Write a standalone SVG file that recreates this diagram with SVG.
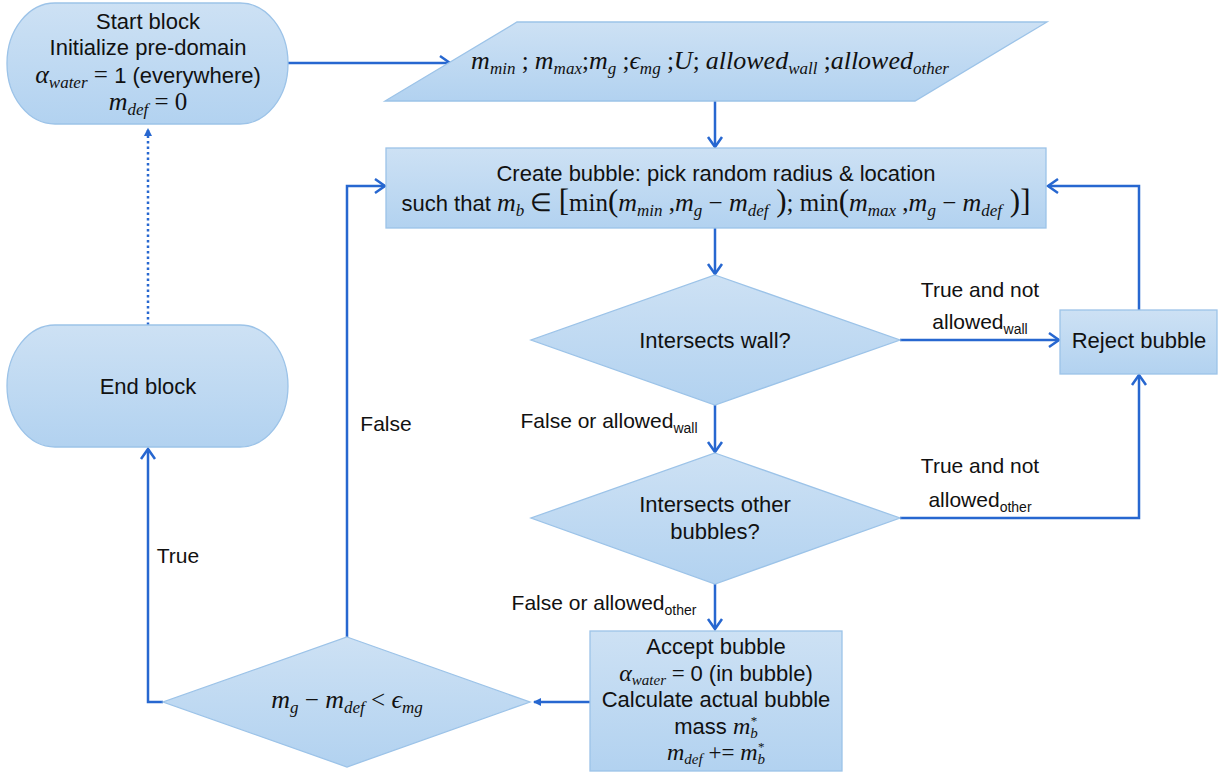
<svg xmlns="http://www.w3.org/2000/svg" width="1225" height="774" viewBox="0 0 1225 774">
<defs>
<linearGradient id="fillg" x1="0" y1="0" x2="0" y2="1">
<stop offset="0" stop-color="#cde1f4"/>
<stop offset="1" stop-color="#b2d2f0"/>
</linearGradient>
<marker id="open" markerUnits="userSpaceOnUse" viewBox="-14 -9 16 18" refX="0" refY="0" markerWidth="16" markerHeight="18" orient="auto" overflow="visible">
<path d="M-10,-7 L0,0 L-10,7" fill="none" stroke="#2767d0" stroke-width="2.5" stroke-linejoin="miter"/>
</marker>
<marker id="small" markerUnits="userSpaceOnUse" viewBox="-8 -5 10 10" refX="0" refY="0" markerWidth="10" markerHeight="10" orient="auto" overflow="visible">
<path d="M-7,-4 L1,0 L-7,4 Z" fill="#2767d0"/>
</marker>
</defs>
<style>
.shape { fill: url(#fillg); stroke: #9cc3e8; stroke-width: 1.3; }
.conn { fill: none; stroke: #2767d0; stroke-width: 2.5; }
.t { font-family: "Liberation Sans", Arial, sans-serif; font-size: 22px; fill: #111; text-anchor: middle; }
.l { font-family: "Liberation Sans", Arial, sans-serif; font-size: 21px; fill: #111; text-anchor: middle; }
.sub { font-size: 14px; }
.m { font-family: "Liberation Serif", "Times New Roman", serif; font-style: italic; font-size: 26px; }
.ms { font-family: "Liberation Serif", "Times New Roman", serif; font-style: italic; font-size: 17px; }
.sup { font-family: "Liberation Serif", "Times New Roman", serif; font-style: normal; font-size: 13px; }
.mr { font-family: "Liberation Serif", "Times New Roman", serif; font-style: normal; font-size: 25px; }
.big { font-family: "Liberation Serif", "Times New Roman", serif; font-style: normal; font-size: 31px; }
.acc .m { font-size: 24px; }
.acc .ms { font-size: 15px; }
.acc .mr { font-size: 23px; }
</style>
<rect width="1225" height="774" fill="#ffffff"/>

<g id="connectors">
<path class="conn" d="M288,63 L450,63" marker-end="url(#open)"/>
<path class="conn" d="M715,101 L715,147" marker-end="url(#open)"/>
<path class="conn" d="M715,228 L715,274" marker-end="url(#open)"/>
<path class="conn" d="M900,340 L1059,340" marker-end="url(#open)"/>
<path class="conn" d="M1139,310 L1139,186 L1048,186" marker-end="url(#open)"/>
<path class="conn" d="M715,405 L715,452" marker-end="url(#open)"/>
<path class="conn" d="M900,518 L1139,518 L1139,375" marker-end="url(#open)"/>
<path class="conn" d="M715,584 L715,629" marker-end="url(#open)"/>
<path class="conn" d="M590,702 L534,702" marker-end="url(#small)"/>
<path class="conn" d="M163,702 L148,702 L148,449" marker-end="url(#open)"/>
<path class="conn" d="M347,637 L347,186 L385,186" marker-end="url(#open)"/>
<path class="conn" d="M148,325 L148,129" stroke-dasharray="2.5 3" marker-end="url(#small)"/>
<text class="l" x="980" y="297">True and not</text>
<text class="l" x="980" y="329">allowed<tspan class="sub" dy="5">wall</tspan></text>
<text class="l" x="609" y="428">False or allowed<tspan class="sub" dy="5">wall</tspan></text>
<text class="l" x="980" y="473">True and not</text>
<text class="l" x="980" y="507">allowed<tspan class="sub" dy="5">other</tspan></text>
<text class="l" x="604" y="610">False or allowed<tspan class="sub" dy="5">other</tspan></text>
<text class="l" x="386" y="431">False</text>
<text class="l" x="178" y="563">True</text>
</g>

<g id="start">
<rect class="shape" x="7" y="3" width="281" height="121" rx="48" ry="60"/>
<text class="t" x="148" y="29">Start block</text>
<text class="t" x="148" y="55">Initialize pre-domain</text>
<text class="t" x="148" y="83"><tspan class="m">α</tspan><tspan class="ms" dy="5">water</tspan><tspan class="mr" dy="-5">  = </tspan>1 (everywhere)</text>
<text class="t" x="148" y="110"><tspan class="m">m</tspan><tspan class="ms" dy="5">def</tspan><tspan class="mr" dy="-5">  = 0</tspan></text>
</g>

<g id="params">
<polygon class="shape" points="517,22 1047,22 915,101 385,101"/>
<text class="t" x="710" y="69"><tspan class="m">m</tspan><tspan class="ms" dy="5">min</tspan><tspan class="mr" dy="-5"> ; </tspan><tspan class="m">m</tspan><tspan class="ms" dy="5">max</tspan><tspan class="mr" dy="-5">;</tspan><tspan class="m">m</tspan><tspan class="ms" dy="5">g</tspan><tspan class="mr" dy="-5"> ;</tspan><tspan class="m">ϵ</tspan><tspan class="ms" dy="5">mg</tspan><tspan class="mr" dy="-5"> ;</tspan><tspan class="m">U</tspan><tspan class="mr">; </tspan><tspan class="m">allowed</tspan><tspan class="ms" dy="5">wall</tspan><tspan class="mr" dy="-5"> ;</tspan><tspan class="m">allowed</tspan><tspan class="ms" dy="5">other</tspan></text>
</g>

<g id="create">
<rect class="shape" x="386" y="148" width="660" height="80"/>
<text class="t" x="716" y="181">Create bubble: pick random radius &amp; location</text>
<text class="t" x="716" y="211">such that <tspan class="m">m</tspan><tspan class="ms" dy="5">b</tspan><tspan class="mr" dy="-5"> ∈ </tspan><tspan class="big">[</tspan><tspan class="mr">min</tspan><tspan class="big">(</tspan><tspan class="m">m</tspan><tspan class="ms" dy="5">min</tspan><tspan class="mr" dy="-5"> ,</tspan><tspan class="m">m</tspan><tspan class="ms" dy="5">g</tspan><tspan class="mr" dy="-5"> − </tspan><tspan class="m">m</tspan><tspan class="ms" dy="5">def</tspan><tspan class="big" dy="-5"> )</tspan><tspan class="mr">; min</tspan><tspan class="big">(</tspan><tspan class="m">m</tspan><tspan class="ms" dy="5">max</tspan><tspan class="mr" dy="-5"> ,</tspan><tspan class="m">m</tspan><tspan class="ms" dy="5">g</tspan><tspan class="mr" dy="-5"> − </tspan><tspan class="m">m</tspan><tspan class="ms" dy="5">def</tspan><tspan class="big" dy="-5"> )]</tspan></text>
</g>

<g id="wall">
<polygon class="shape" points="715,275 900,340 715,405 531,340"/>
<text class="t" x="715" y="348">Intersects wall?</text>
</g>

<g id="reject">
<rect class="shape" x="1060" y="310" width="157" height="64"/>
<text class="t" x="1139" y="348">Reject bubble</text>
</g>

<g id="other">
<polygon class="shape" points="715,453 900,518 715,584 531,518"/>
<text class="t" x="715" y="512">Intersects other</text>
<text class="t" x="715" y="539">bubbles?</text>
</g>

<g id="accept" class="acc">
<rect class="shape" x="590" y="631" width="252" height="140"/>
<text class="t" x="716" y="654">Accept bubble</text>
<text class="t" x="716" y="681"><tspan class="m">α</tspan><tspan class="ms" dy="4">water</tspan><tspan class="mr" dy="-4">  = </tspan>0 (in bubble)</text>
<text class="t" x="716" y="707">Calculate actual bubble</text>
<text class="t" x="716" y="734">mass <tspan class="m">m</tspan><tspan class="ms" dy="4">b</tspan><tspan class="sup" dx="-7" dy="-13">*</tspan></text>
<text class="t" x="716" y="760"><tspan class="m">m</tspan><tspan class="ms" dy="4">def</tspan><tspan class="mr" dy="-4">  += </tspan><tspan class="m">m</tspan><tspan class="ms" dy="4">b</tspan><tspan class="sup" dx="-7" dy="-13">*</tspan></text>
</g>

<g id="check">
<polygon class="shape" points="347,637 530,702 347,767 163,702"/>
<text class="t" x="347" y="708"><tspan class="m">m</tspan><tspan class="ms" dy="5">g</tspan><tspan class="mr" dy="-5"> − </tspan><tspan class="m">m</tspan><tspan class="ms" dy="5">def</tspan><tspan class="mr" dy="-5">  &lt; </tspan><tspan class="m">ϵ</tspan><tspan class="ms" dy="5">mg</tspan></text>
</g>

<g id="end">
<rect class="shape" x="7" y="325" width="281" height="122" rx="48" ry="61"/>
<text class="t" x="148" y="394">End block</text>
</g>
</svg>
